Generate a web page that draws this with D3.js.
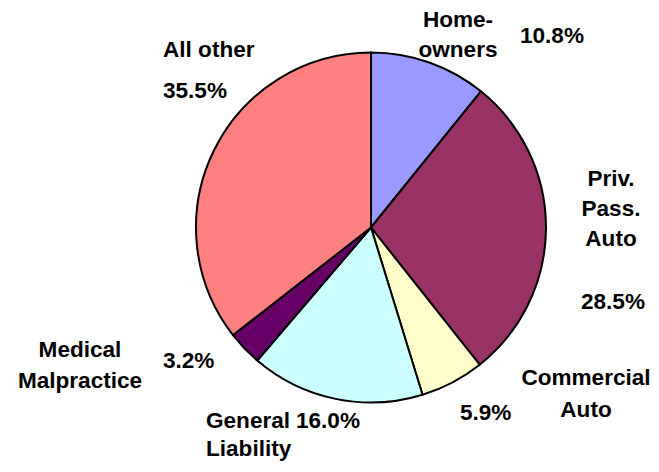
<!DOCTYPE html>
<html>
<head>
<meta charset="utf-8">
<script src="https://cdn.jsdelivr.net/npm/d3@7.9.0/dist/d3.min.js"></script>
<style>
  body { margin: 0; background: #fff; }
  svg { display: block; }
  text { font-family: "Liberation Sans", Arial, sans-serif; font-weight: bold; font-size: 21.5px; fill: #000; }
</style>
</head>
<body>
<svg id="chart" width="659" height="472"></svg>
<script>
// Line names, clockwise from 12 o'clock
const categories = ["Homeowners", "Priv. Pass. Auto", "Commercial Auto", "General Liability", "Medical Malpractice", "All other"];
const shares = [10.8, 28.5, 5.9, 16.0, 3.2, 35.5];
const labelLines = [["Home-", "owners"], ["Priv.", "Pass.", "Auto"], ["Commercial", "Auto"], ["General", "Liability"], ["Medical", "Malpractice"], ["All other"]];
const sliceColors = ["#9999ff", "#993366", "#ffffcc", "#ccffff", "#660066", "#ff8080"];

// where each name block and its percentage sit (x, first baseline, anchor)
const namePos = [
  { x: 458, y: 27, anchor: "middle", dy: 30 },
  { x: 611, y: 186, anchor: "middle", dy: 30 },
  { x: 586, y: 385, anchor: "middle", dy: 32 },
  { x: 206, y: 428, anchor: "start", dy: 28 },
  { x: 80, y: 357, anchor: "middle", dy: 31 },
  { x: 163, y: 57, anchor: "start", dy: 30 }
];
const pctPos = [
  { x: 520, y: 43, anchor: "start" },
  { x: 581, y: 309, anchor: "start" },
  { x: 460, y: 420, anchor: "start" },
  { x: 296, y: 428, anchor: "start" },
  { x: 163, y: 368, anchor: "start" },
  { x: 163, y: 98, anchor: "start" }
];

const cx = 371, cy = 227.5, radius = 175;
const stretch = 1.05;

const svg = d3.select('#chart');

const pie = d3.pie().sort(null).value(d => d.value);
const arcGen = d3.arc().innerRadius(0).outerRadius(radius);
const color = d3.scaleOrdinal().domain(categories).range(sliceColors);

const data = categories.map((c, i) => ({ name: c, value: shares[i] }));

svg.append('g')
    .attr('transform', `translate(${cx},${cy})`)
    .selectAll('path')
    .data(pie(data))
    .enter()
    .append('path')
    .attr('d', arcGen)
    .attr('fill', d => color(d.data.name))
    .attr('stroke', '#000')
    .attr('stroke-width', 2)
    .attr('stroke-linejoin', 'round');

// category names and their shares
data.forEach((d, i) => {
    const p = namePos[i];
    labelLines[i].forEach((line, j) => {
        svg.append('text')
            .attr('transform', `translate(${p.x},${p.y + j * p.dy}) scale(${stretch},1)`)
            .attr('text-anchor', p.anchor)
            .text(line);
    });
    const q = pctPos[i];
    svg.append('text')
        .attr('transform', `translate(${q.x},${q.y}) scale(${stretch},1)`)
        .attr('text-anchor', q.anchor)
        .text(d3.format('.1f')(d.value) + '%');
});
</script>
</body>
</html>
